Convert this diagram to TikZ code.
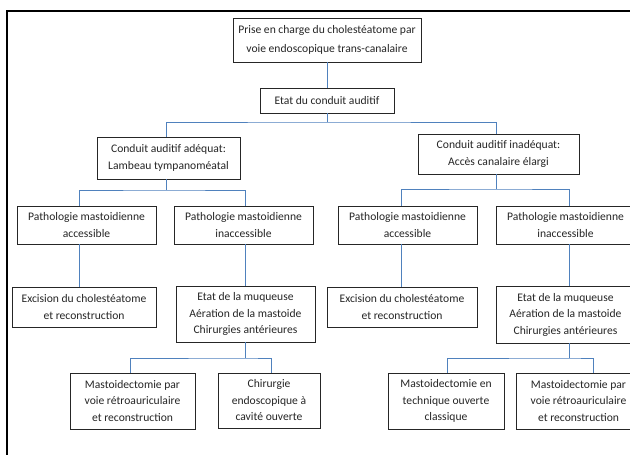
\documentclass[tikz,border=0pt]{standalone}
\usepackage{fontspec}
\setmainfont{Carlito}
\begin{document}
\begin{tikzpicture}[x=1pt,y=-1pt,
  box/.style={draw=black!85, line width=0.8pt, fill=white, align=center, inner sep=0pt,
    text=black!85, font=\fontsize{11.6}{16.5}\selectfont},
  conn/.style={draw={rgb,255:red,79;green,129;blue,189}, line width=0.9pt},
  frame/.style={draw=black, line width=2.3pt}]
\useasboundingbox (0,0) rectangle (630,455);
\clip (0,0) rectangle (630,455);
\fill[white] (0,0) rectangle (630,455);
% outer frame
\coordinate (fl) at (7,460);
\coordinate (fc) at (7,11);
\coordinate (fr) at (640,11);
\draw[frame] (fl) -- (fc) -- (fr);

% nodes
\node[box, minimum width=188, minimum height=44, font=\fontsize{11.6}{19}\selectfont] (root) at (327,40)
  {Prise en charge du cholestéatome par\\voie endoscopique trans-canalaire};
\node[box, minimum width=134, minimum height=25] (etat) at (327,100.5) {Etat du conduit auditif};
\node[box, minimum width=143, minimum height=42] (adeq) at (168.5,158)
  {Conduit auditif adéquat:\\Lambeau tympanoméatal};
\node[box, minimum width=161, minimum height=40] (inad) at (498.5,154)
  {Conduit auditif inadéquat:\\Accès canalaire élargi};
\node[box, minimum width=139, minimum height=38] (L1) at (86.5,225)
  {Pathologie mastoidienne\\accessible};
\node[box, minimum width=139, minimum height=38] (L2) at (243.5,225)
  {Pathologie mastoidienne\\inaccessible};
\node[box, minimum width=139, minimum height=38] (R1) at (407.5,225)
  {Pathologie mastoidienne\\accessible};
\node[box, minimum width=139, minimum height=38] (R2) at (565.5,225)
  {Pathologie mastoidienne\\inaccessible};
\node[box, minimum width=144, minimum height=40] (ExL) at (84,307)
  {Excision du cholestéatome\\et reconstruction};
\node[box, minimum width=139, minimum height=56] (MuqL) at (245.5,314)
  {Etat de la muqueuse\\Aération de la mastoide\\Chirurgies antérieures};
\node[box, minimum width=150, minimum height=40] (ExR) at (402,307)
  {Excision du cholestéatome\\et reconstruction};
\node[box, minimum width=139, minimum height=57] (MuqR) at (565.5,314.5)
  {Etat de la muqueuse\\Aération de la mastoide\\Chirurgies antérieures};
\node[box, minimum width=125, minimum height=56] (BL1) at (132.5,401)
  {Mastoidectomie par\\voie rétroauriculaire\\et reconstruction};
\node[box, minimum width=102, minimum height=55] (BL2) at (269,400.5)
  {Chirurgie\\endoscopique à\\cavité ouverte};
\node[box, minimum width=116, minimum height=56] (BR1) at (446,401)
  {Mastoidectomie en\\technique ouverte\\classique};
\node[box, minimum width=125, minimum height=56] (BR2) at (578.5,401)
  {Mastoidectomie par\\voie rétroauriculaire\\et reconstruction};

% connector x positions
\coordinate (x166) at (166,0);
\coordinate (x496) at (496,0);
\coordinate (x79) at (79,0);
\coordinate (x245) at (245,0);
\coordinate (x401) at (401,0);
\coordinate (x569) at (569,0);
\coordinate (x130) at (130,0);
\coordinate (x271) at (271,0);
\coordinate (x447) at (447,0);
\coordinate (x593) at (593,0);
% bus levels
\coordinate (bA) at (327,122);
\coordinate (bL) at (166,190);
\coordinate (bR) at (496,189);
\coordinate (bML) at (245,358);
\coordinate (bMR) at (569,358);

% connectors
\draw[conn] (root.south) -- (etat.north);
\draw[conn] (etat.south) -- (bA);
\draw[conn] (adeq.north -| x166) |- (bA) -| (inad.north -| x496);

\draw[conn] (adeq.south -| x166) -- (bL);
\draw[conn] (L1.north -| x79) |- (bL) -| (L2.north -| x245);

\draw[conn] (inad.south -| x496) -- (bR);
\draw[conn] (R1.north -| x401) |- (bR) -| (R2.north -| x569);

\draw[conn] (L1.south -| x79) -- (ExL.north -| x79);
\draw[conn] (L2.south -| x245) -- (MuqL.north -| x245);
\draw[conn] (R1.south -| x401) -- (ExR.north -| x401);
\draw[conn] (R2.south -| x569) -- (MuqR.north -| x569);

\draw[conn] (MuqL.south -| x245) -- (bML);
\draw[conn] (BL1.north -| x130) |- (bML) -| (BL2.north -| x271);

\draw[conn] (MuqR.south -| x569) -- (bMR);
\draw[conn] (BR1.north -| x447) |- (bMR) -| (BR2.north -| x593);
\end{tikzpicture}
\end{document}
